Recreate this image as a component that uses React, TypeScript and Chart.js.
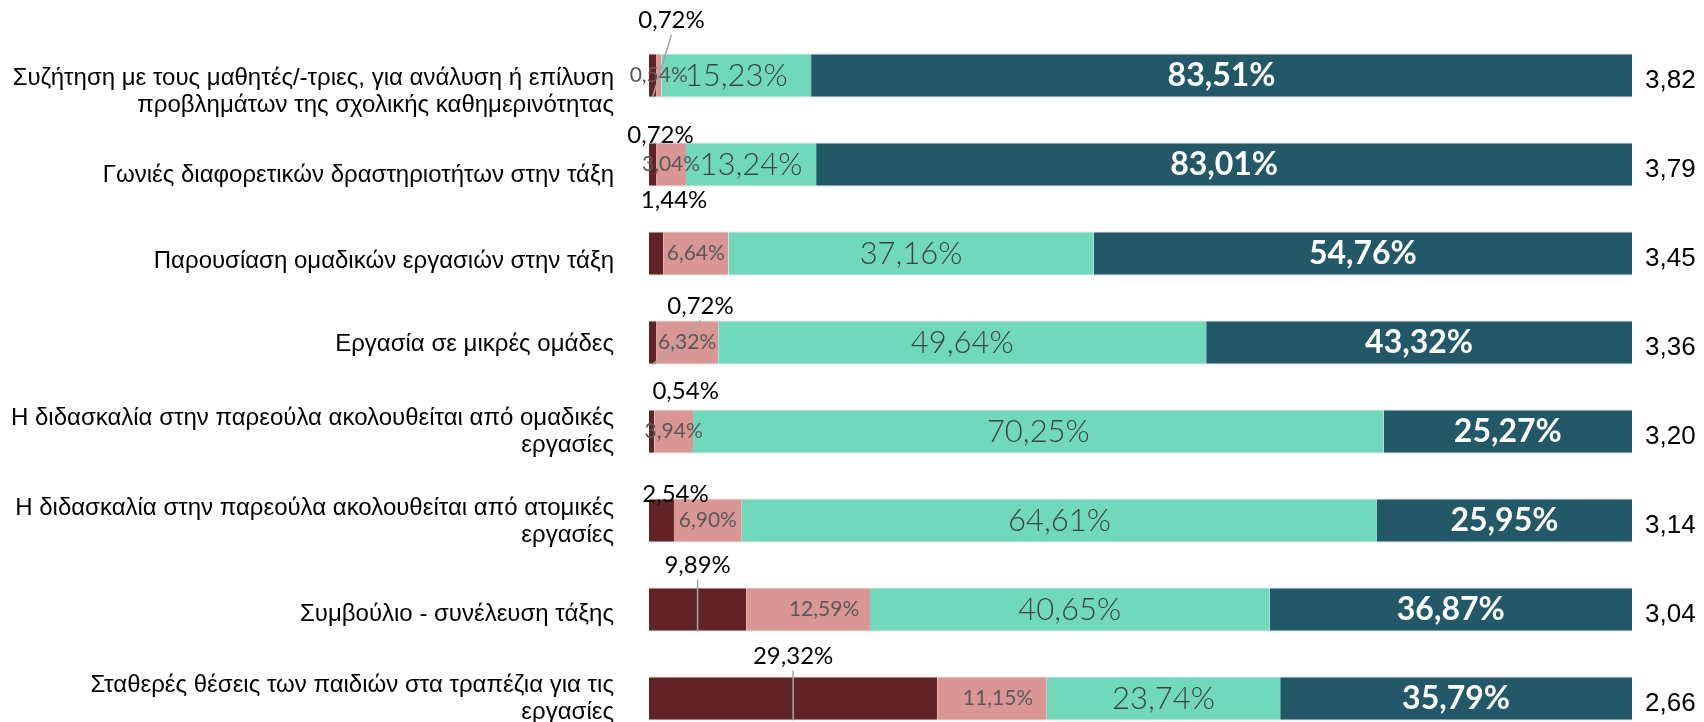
import { useEffect, useRef } from 'react';
import { Chart, registerables } from 'chart.js';

Chart.register(...registerables);

const categories: (string | string[])[] = [
  ['Συζήτηση με τους μαθητές/-τριες, για ανάλυση ή επίλυση', 'προβλημάτων της σχολικής καθημερινότητας'],
  'Γωνιές διαφορετικών δραστηριοτήτων στην τάξη',
  'Παρουσίαση ομαδικών εργασιών στην τάξη',
  'Εργασία σε μικρές ομάδες',
  ['Η διδασκαλία στην παρεούλα ακολουθείται από ομαδικές', 'εργασίες'],
  ['Η διδασκαλία στην παρεούλα ακολουθείται από ατομικές', 'εργασίες'],
  'Συμβούλιο - συνέλευση τάξης',
  ['Σταθερές θέσεις των παιδιών στα τραπέζια για τις', 'εργασίες'],
];

const seriesNames = ['Καθόλου', 'Λίγο', 'Αρκετά', 'Πολύ'];
const valuesNone = [0.72, 0.72, 1.44, 0.72, 0.54, 2.54, 9.89, 29.32];
const valuesLittle = [0.54, 3.04, 6.64, 6.32, 3.94, 6.9, 12.59, 11.15];
const valuesMuch = [15.23, 13.24, 37.16, 49.64, 70.25, 64.61, 40.65, 23.74];
const valuesVeryMuch = [83.51, 83.01, 54.76, 43.32, 25.27, 25.95, 36.87, 35.79];
const meanScores = [3.82, 3.79, 3.45, 3.36, 3.2, 3.14, 3.04, 2.66];

// label placement (styling, not data)
const noneLabelDx = [19, 8, 18, 48, 34, 14, 0, 0];
const noneLabelDy = [-33, -7, -31, -14, -18, -4, -22, -20];
const noneLeader = [true, false, false, true, false, false, true, true];
const littleLabelDx = [0, 0, 0, 0, 0, 0, 16, 6];
const categoryLabelDy = [16, 11, 8, 2, 0, 1, 5, 0];

const colors = ['#612325', '#D99694', '#70D8BB', '#225868'];
const LABEL_FONT = 'Lato, "Open Sans", sans-serif';
const AXIS_FONT = '"Liberation Sans", Arial, sans-serif';

const fmt = (v: number) => v.toFixed(2).replace('.', ',') + '%';

const labelPlugin = {
  id: 'segmentLabels',
  afterDatasetsDraw(chart: any) {
    const ctx = chart.ctx as CanvasRenderingContext2D;
    const area = chart.chartArea;
    const yScale = chart.scales.y;
    ctx.save();

    // category labels (left)
    ctx.font = `400 24px ${AXIS_FONT}`;
    ctx.fillStyle = '#000000';
    ctx.textAlign = 'right';
    ctx.textBaseline = 'middle';
    const lineH = 27;
    categories.forEach((c, i) => {
      const lines = Array.isArray(c) ? c : [c];
      const cy = yScale.getPixelForValue(i) + categoryLabelDy[i];
      lines.forEach((ln, k) => {
        ctx.fillText(ln, area.left - 35, cy - ((lines.length - 1) * lineH) / 2 + k * lineH);
      });
    });

    const geom = (bar: any) => {
      const p = bar.getProps(['x', 'y', 'base', 'height'], true);
      return {
        cx: (p.x + p.base) / 2,
        cy: p.y,
        top: p.y - p.height / 2,
        bottom: p.y + p.height / 2,
      };
    };
    // leader lines
    const m0 = chart.getDatasetMeta(0);
    ctx.strokeStyle = '#A6A6A6';
    ctx.lineWidth = 1.5;
    m0.data.forEach((bar: any, i: number) => {
      if (!noneLeader[i]) return;
      const g = geom(bar);
      const lx = g.cx + noneLabelDx[i];
      const ly = g.top + noneLabelDy[i];
      ctx.beginPath();
      ctx.moveTo(lx, ly + 14);
      ctx.lineTo(g.cx, g.bottom);
      ctx.stroke();
    });

    ctx.textAlign = 'center';
    ctx.textBaseline = 'middle';
    chart.data.datasets.forEach((ds: any, di: number) => {
      const meta = chart.getDatasetMeta(di);
      meta.data.forEach((bar: any, i: number) => {
        const v = ds.data[i];
        const g = geom(bar);
        const text = fmt(v);
        if (di === 0) {
          ctx.font = `400 24px ${LABEL_FONT}`;
          ctx.fillStyle = '#000000';
          ctx.fillText(text, g.cx + noneLabelDx[i], g.top + noneLabelDy[i]);
        } else if (di === 1) {
          ctx.font = `400 21px ${LABEL_FONT}`;
          ctx.fillStyle = '#595959';
          ctx.fillText(text, g.cx + littleLabelDx[i], g.cy);
        } else if (di === 2) {
          ctx.font = `300 31px ${LABEL_FONT}`;
          ctx.fillStyle = '#404040';
          ctx.fillText(text, g.cx, g.cy);
        } else {
          ctx.font = `700 32px ${LABEL_FONT}`;
          ctx.fillStyle = '#FFFFFF';
          ctx.fillText(text, g.cx, g.cy);
        }
      });
    });

    // mean scores on the right
    ctx.textAlign = 'left';
    ctx.font = `400 26px ${AXIS_FONT}`;
    ctx.fillStyle = '#000000';
    m0.data.forEach((bar: any, i: number) => {
      const g = geom(bar);
      ctx.fillText(meanScores[i].toFixed(2).replace('.', ','), area.right + 13, g.cy + 5);
    });
    ctx.restore();
  },
};

export default function App() {
  const ref = useRef<HTMLCanvasElement | null>(null);
  useEffect(() => {
    if (!ref.current) return;
    const series = [valuesNone, valuesLittle, valuesMuch, valuesVeryMuch];
    const chart = new Chart(ref.current, {
      type: 'bar',
      data: {
        labels: categories,
        datasets: series.map((d, i) => ({
          label: seriesNames[i],
          data: d,
          backgroundColor: colors[i],
          borderColor: 'rgba(200,200,200,0.8)',
          borderWidth: { top: 1, bottom: 1, left: 0, right: 0 },
          borderSkipped: false,
          categoryPercentage: 1,
          barPercentage: 0.494,
        })),
      },
      options: {
        indexAxis: 'y',
        responsive: false,
        devicePixelRatio: 1,
        animation: false,
        layout: { padding: { top: 31, right: 72, bottom: 9, left: 0 } },
        plugins: { legend: { display: false }, tooltip: { enabled: false } },
        scales: {
          x: { stacked: true, min: 0, max: 100, display: false },
          y: {
            stacked: true,
            grid: { display: false, drawTicks: false },
            border: { display: false },
            ticks: { display: false },
            afterFit: (scale: any) => {
              scale.width = 649;
              scale.paddingTop = 0;
              scale.paddingBottom = 0;
            },
          },
        },
      },
      plugins: [labelPlugin],
    } as any);
    return () => chart.destroy();
  }, []);
  return (
    <div
      style={{
        position: 'fixed',
        left: 0,
        top: 0,
        width: 1704,
        height: 722,
        overflow: 'hidden',
        background: '#ffffff',
      }}
    >
      <canvas ref={ref} width={1704} height={752} style={{ display: 'block', width: 1704, height: 752 }} />
    </div>
  );
}
